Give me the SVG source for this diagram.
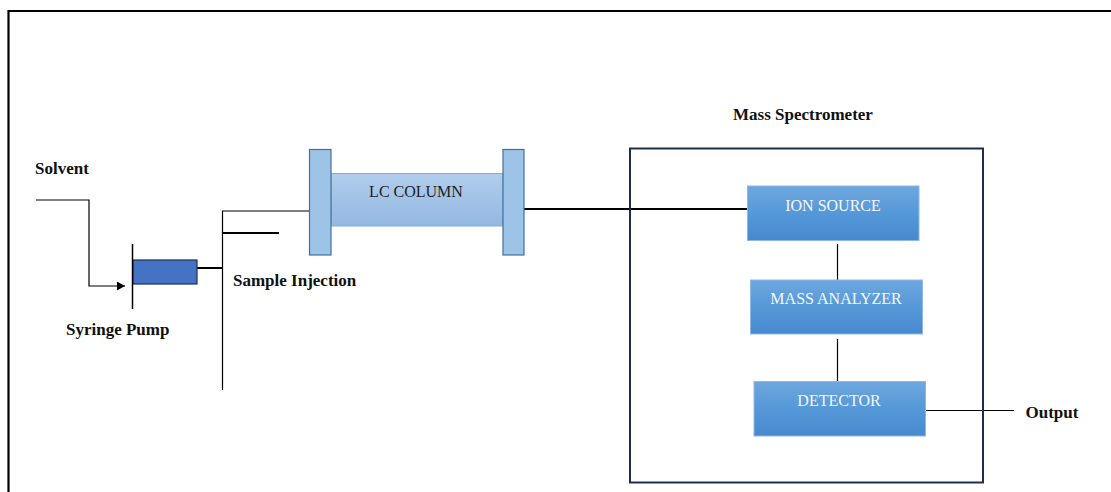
<svg xmlns="http://www.w3.org/2000/svg" width="1111" height="492" viewBox="0 0 1111 492">
<defs>
<linearGradient id="boxg" x1="0" y1="0" x2="0" y2="1">
<stop offset="0" stop-color="#6FA7DE"/>
<stop offset="0.5" stop-color="#5598D8"/>
<stop offset="1" stop-color="#4889CE"/>
</linearGradient>
<linearGradient id="colg" x1="0" y1="0" x2="0" y2="1">
<stop offset="0" stop-color="#B0CDEC"/>
<stop offset="1" stop-color="#94B8E2"/>
</linearGradient>
<marker id="arr" markerWidth="10" markerHeight="10" refX="8" refY="4.5" orient="auto" markerUnits="userSpaceOnUse">
<path d="M0,0 L8,4.5 L0,9 Z" fill="#000"/>
</marker>
</defs>
<style>
.lbl{font-family:"Liberation Serif","Times New Roman",serif;font-weight:bold;font-size:17px;fill:#111}
.btxt{font-family:"Liberation Serif","Times New Roman",serif;font-size:16px;fill:#F4F8FC;text-anchor:middle}
.box{fill:url(#boxg);stroke:#8FB8E6;stroke-width:1}
.flange{fill:#9DC3E6;stroke:#41719C;stroke-width:1.2}
.ln{stroke:#000;fill:none;stroke-width:1.2}
.ln2{stroke:#000;fill:none;stroke-width:2}
</style>
<rect width="1111" height="492" fill="#fff"/>
<path d="M8.5,492 V11 H1111" fill="none" stroke="#000" stroke-width="2.2"/>

<g id="connectors">
<path class="ln" d="M36,200 H89 V286 H125" marker-end="url(#arr)"/>
<path class="ln2" d="M197,268 H222"/>
<path class="ln" d="M222.5,390 V211 H310"/>
<path class="ln2" d="M222,233 H279"/>
<path class="ln2" d="M524,209 H748"/>
<path class="ln" d="M837.5,244 V280"/>
<path class="ln" d="M837.5,339 V382"/>
<path class="ln" d="M925,410.5 H1014"/>
</g>

<g id="solvent"><text class="lbl" x="35" y="174">Solvent</text></g>

<g id="syringe-pump">
<rect x="133" y="260" width="64" height="24" fill="#4472C4" stroke="#1F2F4F" stroke-width="1.2"/>
<line x1="132.5" y1="244" x2="132.5" y2="309" stroke="#000" stroke-width="1.5"/>
<text class="lbl" x="66" y="335">Syringe Pump</text>
</g>

<g id="sample-injection"><text class="lbl" x="233" y="286">Sample Injection</text></g>

<g id="lc-column">
<rect x="331" y="173.5" width="172" height="52.5" fill="url(#colg)" stroke="#7FAEE0" stroke-width="1"/>
<rect class="flange" x="309.5" y="149.5" width="21.5" height="105.5"/>
<rect class="flange" x="503" y="149.5" width="21" height="105.5"/>
<text x="416" y="197" font-family="'Liberation Serif','Times New Roman',serif" font-size="16" fill="#222" text-anchor="middle">LC COLUMN</text>
</g>

<g id="mass-spectrometer">
<rect x="630" y="148.5" width="353" height="334" fill="none" stroke="#1F2D4A" stroke-width="2"/>
<text class="lbl" x="733" y="120">Mass Spectrometer</text>
</g>

<g id="ion-source">
<rect class="box" x="747.5" y="186" width="171.5" height="54.5"/>
<text class="btxt" x="833" y="210.5">ION SOURCE</text>
</g>

<g id="mass-analyzer">
<rect class="box" x="750.5" y="280" width="172" height="54"/>
<text class="btxt" x="836" y="304">MASS ANALYZER</text>
</g>

<g id="detector">
<rect class="box" x="754" y="381.5" width="171.5" height="54.5"/>
<text class="btxt" x="839" y="406">DETECTOR</text>
</g>

<g id="output"><text class="lbl" x="1025.5" y="418">Output</text></g>
</svg>
